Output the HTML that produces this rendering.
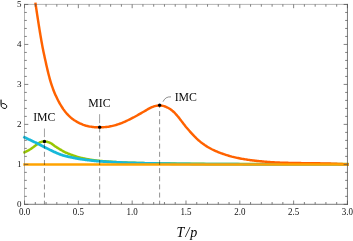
<!DOCTYPE html>
<html><head><meta charset="utf-8"><title>plot</title>
<style>html,body{margin:0;padding:0;background:#fff;}body{width:353px;height:241px;overflow:hidden;position:relative;font-family:"Liberation Serif",serif;}</style>
</head><body>
<svg width="353" height="241" viewBox="0 0 353 241" style="position:absolute;left:0;top:0;will-change:transform">
<rect x="0" y="0" width="353" height="241" fill="#fff"/>
<g fill="none" stroke-linecap="square" stroke-linejoin="round">
<path d="M24.53,152.40 L25.01,152.17 L25.49,151.94 L25.97,151.70 L26.45,151.45 L26.93,151.19 L27.41,150.93 L27.89,150.67 L28.37,150.39 L28.85,150.12 L29.33,149.83 L29.81,149.54 L30.29,149.25 L30.77,148.94 L31.25,148.62 L31.73,148.28 L32.21,147.94 L32.69,147.59 L33.17,147.24 L33.65,146.88 L34.12,146.51 L34.60,146.15 L35.08,145.79 L35.56,145.43 L36.04,145.08 L36.52,144.73 L37.00,144.40 L37.48,144.05 L37.96,143.70 L38.44,143.34 L38.92,143.01 L39.40,142.70 L39.88,142.45 L40.36,142.25 L40.84,142.06 L41.32,141.89 L41.80,141.75 L42.28,141.64 L42.76,141.56 L43.24,141.49 L43.72,141.43 L44.20,141.40 L44.68,141.41 L45.16,141.46 L45.64,141.53 L46.12,141.63 L46.60,141.72 L47.08,141.82 L47.56,141.95 L48.04,142.09 L48.52,142.24 L49.00,142.42 L49.48,142.60 L49.96,142.80 L50.44,143.01 L50.92,143.26 L51.40,143.55 L51.88,143.87 L52.36,144.21 L52.84,144.57 L53.31,144.94 L53.79,145.31 L54.27,145.67 L54.75,146.03 L55.23,146.36 L55.71,146.67 L56.19,146.98 L56.67,147.29 L57.15,147.60 L57.63,147.91 L58.11,148.21 L58.59,148.51 L59.07,148.80 L59.55,149.10 L60.03,149.38 L60.51,149.67 L60.99,149.95 L61.47,150.23 L61.95,150.50 L62.43,150.78 L62.91,151.05 L63.39,151.32 L63.87,151.58 L64.35,151.83 L64.83,152.07 L65.31,152.31 L65.79,152.53 L66.27,152.75 L66.75,152.96 L67.23,153.17 L67.71,153.37 L68.19,153.56 L68.67,153.75 L69.15,153.94 L69.63,154.13 L70.11,154.31 L70.59,154.49 L71.07,154.68 L71.55,154.85 L72.03,155.03 L72.50,155.21 L72.98,155.38 L73.46,155.55 L73.94,155.71 L74.42,155.88 L74.90,156.04 L75.38,156.20 L75.86,156.36 L76.34,156.51 L76.82,156.67 L77.30,156.82 L77.78,156.98 L78.26,157.13 L78.74,157.27 L79.22,157.41 L79.70,157.53 L80.18,157.64 L80.66,157.75 L81.14,157.86 L81.62,157.96 L82.10,158.07 L82.58,158.17 L83.06,158.27 L83.54,158.37 L84.02,158.47 L84.50,158.57 L84.98,158.67 L85.46,158.76 L85.94,158.86 L86.42,158.95 L86.90,159.04 L87.38,159.13 L87.86,159.22 L88.34,159.30 L88.82,159.39 L89.30,159.47 L89.78,159.55 L90.26,159.63 L90.74,159.71 L91.22,159.79 L91.69,159.87 L92.17,159.94 L92.65,160.01 L93.13,160.08 L93.61,160.15 L94.09,160.22 L94.57,160.29 L95.05,160.35 L95.53,160.41 L96.01,160.47 L96.49,160.53 L96.97,160.59 L97.45,160.64 L97.93,160.69 L98.41,160.74 L98.89,160.79 L99.37,160.84 L99.85,160.89 L100.33,160.93 L100.81,160.97 L101.29,161.02 L101.77,161.06 L102.25,161.10 L102.73,161.14 L103.21,161.18 L103.69,161.22 L104.17,161.26 L104.65,161.30 L105.13,161.34 L105.61,161.37 L106.09,161.41 L106.57,161.45 L107.05,161.49 L107.53,161.52 L108.01,161.56 L108.49,161.59 L108.97,161.63 L109.45,161.66 L109.93,161.69 L110.41,161.73 L110.88,161.76 L111.36,161.79 L111.84,161.82 L112.32,161.85 L112.80,161.89 L113.28,161.92 L113.76,161.95 L114.24,161.97 L114.72,162.00 L115.20,162.03 L115.68,162.06 L116.16,162.09 L116.64,162.11 L117.12,162.14 L117.60,162.17 L118.08,162.19 L118.56,162.22 L119.04,162.24 L119.52,162.27 L120.00,162.29 L122.88,162.43 L125.76,162.55 L128.64,162.65 L131.52,162.75 L134.40,162.84 L137.27,162.92 L140.15,163.00 L143.03,163.07 L145.91,163.14 L148.79,163.20 L151.67,163.26 L154.55,163.32 L157.43,163.37 L160.31,163.42 L163.19,163.46 L166.07,163.50 L168.94,163.54 L171.82,163.57 L174.70,163.60 L177.58,163.64 L180.46,163.67 L183.34,163.70 L186.22,163.73 L189.10,163.76 L191.98,163.78 L194.86,163.81 L197.74,163.83 L200.62,163.85 L203.49,163.87 L206.37,163.89 L209.25,163.91 L212.13,163.92 L215.01,163.93 L217.89,163.94 L220.77,163.95 L223.65,163.96 L226.53,163.97 L229.41,163.97 L232.29,163.98 L235.16,163.98 L238.04,163.99 L240.92,163.99 L243.80,164.00 L246.68,164.00 L249.56,164.01 L252.44,164.01 L255.32,164.01 L258.20,164.02 L261.08,164.02 L263.96,164.02 L266.83,164.03 L269.71,164.03 L272.59,164.03 L275.47,164.04 L278.35,164.04 L281.23,164.04 L284.11,164.04 L286.99,164.05 L289.87,164.05 L292.75,164.05 L295.63,164.06 L298.51,164.06 L301.38,164.06 L304.26,164.06 L307.14,164.07 L310.02,164.07 L312.90,164.07 L315.78,164.08 L318.66,164.08 L321.54,164.08 L324.42,164.08 L327.30,164.09 L330.18,164.09 L333.05,164.09 L335.93,164.09 L338.81,164.09 L341.69,164.10 L344.57,164.10 L347.45,164.10" stroke="#98c602" stroke-width="2.5"/>
<path d="M24.53,137.40 L25.01,137.62 L25.49,137.84 L25.97,138.06 L26.45,138.28 L26.93,138.50 L27.41,138.72 L27.89,138.94 L28.37,139.17 L28.85,139.39 L29.33,139.62 L29.81,139.84 L30.29,140.07 L30.77,140.29 L31.25,140.52 L31.73,140.75 L32.21,140.98 L32.69,141.21 L33.17,141.44 L33.65,141.67 L34.12,141.90 L34.60,142.13 L35.08,142.37 L35.56,142.60 L36.04,142.83 L36.52,143.07 L37.00,143.30 L37.48,143.54 L37.96,143.78 L38.44,144.02 L38.92,144.26 L39.40,144.50 L39.88,144.74 L40.36,144.99 L40.84,145.23 L41.32,145.48 L41.80,145.72 L42.28,145.97 L42.76,146.21 L43.24,146.46 L43.72,146.70 L44.20,146.95 L44.68,147.19 L45.16,147.43 L45.64,147.67 L46.12,147.91 L46.60,148.15 L47.08,148.40 L47.56,148.64 L48.04,148.89 L48.52,149.13 L49.00,149.38 L49.48,149.62 L49.96,149.87 L50.44,150.11 L50.92,150.35 L51.40,150.58 L51.88,150.81 L52.36,151.04 L52.84,151.27 L53.31,151.49 L53.79,151.71 L54.27,151.92 L54.75,152.13 L55.23,152.35 L55.71,152.56 L56.19,152.77 L56.67,152.98 L57.15,153.18 L57.63,153.39 L58.11,153.59 L58.59,153.79 L59.07,153.98 L59.55,154.17 L60.03,154.35 L60.51,154.53 L60.99,154.70 L61.47,154.87 L61.95,155.03 L62.43,155.18 L62.91,155.32 L63.39,155.46 L63.87,155.60 L64.35,155.73 L64.83,155.86 L65.31,155.99 L65.79,156.11 L66.27,156.23 L66.75,156.35 L67.23,156.46 L67.71,156.57 L68.19,156.68 L68.67,156.79 L69.15,156.90 L69.63,157.00 L70.11,157.11 L70.59,157.21 L71.07,157.31 L71.55,157.42 L72.03,157.52 L72.50,157.62 L72.98,157.72 L73.46,157.82 L73.94,157.92 L74.42,158.01 L74.90,158.11 L75.38,158.20 L75.86,158.29 L76.34,158.39 L76.82,158.47 L77.30,158.56 L77.78,158.64 L78.26,158.73 L78.74,158.80 L79.22,158.88 L79.70,158.96 L80.18,159.03 L80.66,159.10 L81.14,159.17 L81.62,159.24 L82.10,159.30 L82.58,159.37 L83.06,159.44 L83.54,159.51 L84.02,159.57 L84.50,159.64 L84.98,159.70 L85.46,159.77 L85.94,159.83 L86.42,159.89 L86.90,159.96 L87.38,160.02 L87.86,160.08 L88.34,160.14 L88.82,160.20 L89.30,160.26 L89.78,160.31 L90.26,160.37 L90.74,160.43 L91.22,160.48 L91.69,160.53 L92.17,160.59 L92.65,160.64 L93.13,160.69 L93.61,160.74 L94.09,160.79 L94.57,160.84 L95.05,160.88 L95.53,160.93 L96.01,160.97 L96.49,161.02 L96.97,161.06 L97.45,161.10 L97.93,161.14 L98.41,161.18 L98.89,161.22 L99.37,161.25 L99.85,161.29 L100.33,161.32 L100.81,161.36 L101.29,161.39 L101.77,161.42 L102.25,161.46 L102.73,161.49 L103.21,161.52 L103.69,161.55 L104.17,161.58 L104.65,161.61 L105.13,161.64 L105.61,161.68 L106.09,161.70 L106.57,161.73 L107.05,161.76 L107.53,161.79 L108.01,161.82 L108.49,161.85 L108.97,161.88 L109.45,161.90 L109.93,161.93 L110.41,161.96 L110.88,161.98 L111.36,162.01 L111.84,162.03 L112.32,162.06 L112.80,162.08 L113.28,162.11 L113.76,162.13 L114.24,162.16 L114.72,162.18 L115.20,162.21 L115.68,162.23 L116.16,162.25 L116.64,162.27 L117.12,162.30 L117.60,162.32 L118.08,162.34 L118.56,162.36 L119.04,162.38 L119.52,162.40 L120.00,162.42 L122.88,162.54 L125.76,162.65 L128.64,162.75 L131.52,162.85 L134.40,162.94 L137.27,163.03 L140.15,163.11 L143.03,163.19 L145.91,163.27 L148.79,163.34 L151.67,163.41 L154.55,163.48 L157.43,163.54 L160.31,163.59 L163.19,163.65 L166.07,163.69 L168.94,163.74 L171.82,163.77 L174.70,163.81 L177.58,163.85 L180.46,163.88 L183.34,163.92 L186.22,163.95 L189.10,163.98 L191.98,164.01 L194.86,164.04 L197.74,164.07 L200.62,164.09 L203.49,164.11 L206.37,164.14 L209.25,164.15 L212.13,164.17 L215.01,164.18 L217.89,164.19 L220.77,164.20 L223.65,164.21 L226.53,164.22 L229.41,164.22 L232.29,164.23 L235.16,164.24 L238.04,164.24 L240.92,164.25 L243.80,164.25 L246.68,164.26 L249.56,164.26 L252.44,164.27 L255.32,164.27 L258.20,164.28 L261.08,164.28 L263.96,164.28 L266.83,164.29 L269.71,164.29 L272.59,164.29 L275.47,164.30 L278.35,164.30 L281.23,164.30 L284.11,164.30 L286.99,164.30 L289.87,164.30 L292.75,164.30 L295.63,164.30 L298.51,164.30 L301.38,164.30 L304.26,164.30 L307.14,164.30 L310.02,164.30 L312.90,164.30 L315.78,164.30 L318.66,164.30 L321.54,164.30 L324.42,164.30 L327.30,164.30 L330.18,164.30 L333.05,164.30 L335.93,164.30 L338.81,164.30 L341.69,164.30 L344.57,164.30 L347.45,164.30" stroke="#17b9d9" stroke-width="2.75"/>
<path d="M35.56,3.88 L35.72,4.93 L35.88,5.98 L36.03,7.03 L36.19,8.08 L36.35,9.13 L36.50,10.18 L36.66,11.23 L36.82,12.28 L36.98,13.33 L37.14,14.38 L37.29,15.43 L37.46,16.49 L37.62,17.54 L37.78,18.59 L37.94,19.64 L38.10,20.69 L38.27,21.74 L38.43,22.80 L38.60,23.85 L38.76,24.90 L38.93,25.95 L39.10,27.00 L39.27,28.05 L39.44,29.10 L39.61,30.15 L39.78,31.21 L39.95,32.26 L40.13,33.31 L40.30,34.36 L40.48,35.41 L40.66,36.46 L40.84,37.51 L41.02,38.56 L41.20,39.61 L41.39,40.66 L41.57,41.70 L41.76,42.75 L41.95,43.80 L42.14,44.85 L42.33,45.90 L42.52,46.94 L42.72,47.99 L42.93,49.04 L43.14,50.08 L43.36,51.13 L43.58,52.17 L43.80,53.22 L44.02,54.26 L44.24,55.30 L44.47,56.35 L44.70,57.39 L44.93,58.43 L45.16,59.47 L45.39,60.51 L45.61,61.55 L45.84,62.59 L46.07,63.63 L46.30,64.67 L46.53,65.70 L46.77,66.74 L47.01,67.78 L47.25,68.81 L47.49,69.85 L47.74,70.88 L47.99,71.91 L48.24,72.94 L48.49,73.97 L48.75,75.00 L49.02,76.03 L49.29,77.05 L49.56,78.08 L49.84,79.10 L50.13,80.12 L50.42,81.14 L50.72,82.15 L51.03,83.17 L51.35,84.18 L51.69,85.19 L52.03,86.20 L52.39,87.20 L52.75,88.20 L53.12,89.20 L53.50,90.20 L53.89,91.20 L54.29,92.19 L54.70,93.18 L55.12,94.16 L55.55,95.14 L55.99,96.12 L56.45,97.10 L56.91,98.07 L57.38,99.04 L57.87,100.00 L58.37,100.96 L58.88,101.91 L59.40,102.85 L59.94,103.78 L60.49,104.74 L61.05,105.68 L61.63,106.61 L62.22,107.53 L62.83,108.45 L63.45,109.35 L64.09,110.23 L64.75,111.11 L65.41,111.97 L66.10,112.81 L66.80,113.61 L67.52,114.39 L68.25,115.15 L69.01,115.90 L69.78,116.63 L70.57,117.34 L71.37,118.02 L72.20,118.68 L73.04,119.31 L73.90,119.92 L74.78,120.51 L75.70,121.07 L76.60,121.62 L77.52,122.14 L78.45,122.63 L79.39,123.10 L80.35,123.55 L81.32,123.98 L82.30,124.39 L83.29,124.78 L84.30,125.14 L85.31,125.48 L86.33,125.78 L87.36,126.04 L88.40,126.28 L89.44,126.49 L90.49,126.66 L91.55,126.82 L92.60,126.96 L93.67,127.08 L94.73,127.17 L95.79,127.24 L96.86,127.28 L97.92,127.29 L98.99,127.28 L100.05,127.27 L101.11,127.27 L102.17,127.25 L103.23,127.21 L104.29,127.15 L105.34,127.07 L106.39,126.96 L107.44,126.84 L108.49,126.69 L109.53,126.51 L110.57,126.31 L111.60,126.09 L112.63,125.85 L113.66,125.60 L114.68,125.34 L115.70,125.06 L116.71,124.76 L117.71,124.45 L118.71,124.12 L119.71,123.77 L120.70,123.41 L121.68,123.03 L122.66,122.64 L123.63,122.24 L124.59,121.81 L125.55,121.38 L126.50,120.93 L127.44,120.48 L128.38,120.02 L129.31,119.56 L130.24,119.11 L131.16,118.64 L132.08,118.17 L132.99,117.69 L133.90,117.21 L134.82,116.72 L135.73,116.22 L136.64,115.71 L137.56,115.20 L138.47,114.68 L139.40,114.16 L140.32,113.63 L141.26,113.08 L142.19,112.53 L143.14,111.99 L144.09,111.45 L145.04,110.92 L146.01,110.34 L146.97,109.75 L147.95,109.18 L148.92,108.64 L149.91,108.12 L150.90,107.64 L151.89,107.20 L152.89,106.79 L153.90,106.43 L154.91,106.12 L155.92,105.87 L156.94,105.69 L157.96,105.57 L158.99,105.50 L160.01,105.50 L161.02,105.58 L162.03,105.72 L163.03,105.90 L164.02,106.15 L165.00,106.48 L165.97,106.86 L166.91,107.29 L167.84,107.76 L168.74,108.25 L169.62,108.78 L170.49,109.34 L171.33,109.95 L172.15,110.58 L172.95,111.25 L173.74,111.97 L174.51,112.73 L175.26,113.50 L176.00,114.30 L176.73,115.11 L177.44,115.94 L178.15,116.78 L178.84,117.64 L179.52,118.51 L180.19,119.39 L180.85,120.26 L181.51,121.13 L182.16,121.99 L182.80,122.85 L183.45,123.70 L184.09,124.52 L184.73,125.33 L185.38,126.15 L186.03,126.96 L186.68,127.73 L187.34,128.50 L188.00,129.27 L188.67,130.04 L189.34,130.80 L190.02,131.57 L190.71,132.35 L191.40,133.12 L192.10,133.89 L192.81,134.65 L193.53,135.40 L194.25,136.15 L194.99,136.88 L195.73,137.63 L196.48,138.37 L197.25,139.09 L198.02,139.80 L198.80,140.50 L199.60,141.18 L200.40,141.85 L201.22,142.50 L202.05,143.13 L202.89,143.75 L203.74,144.36 L204.60,144.97 L205.48,145.55 L206.36,146.13 L207.25,146.69 L208.15,147.23 L209.06,147.76 L209.98,148.27 L210.91,148.78 L211.84,149.27 L212.79,149.74 L213.74,150.20 L214.70,150.64 L215.66,151.07 L216.64,151.49 L217.61,151.90 L218.60,152.30 L219.59,152.68 L220.59,153.06 L221.59,153.42 L222.60,153.77 L223.61,154.12 L224.63,154.45 L225.65,154.79 L226.67,155.12 L227.70,155.45 L228.73,155.76 L229.76,156.07 L230.80,156.37 L231.84,156.67 L232.88,156.92 L233.92,157.17 L234.97,157.40 L236.01,157.63 L237.06,157.85 L238.10,158.07 L239.15,158.28 L240.20,158.49 L241.25,158.68 L242.30,158.88 L243.35,159.06 L244.40,159.24 L245.45,159.41 L246.50,159.58 L247.55,159.73 L248.60,159.88 L249.66,160.03 L250.71,160.17 L251.76,160.31 L252.82,160.44 L253.87,160.56 L254.93,160.69 L255.98,160.80 L257.04,160.91 L258.10,161.02 L259.15,161.12 L260.21,161.22 L261.27,161.33 L262.33,161.43 L263.39,161.53 L264.44,161.62 L265.50,161.71 L266.56,161.79 L267.62,161.87 L268.68,161.95 L269.74,162.03 L270.80,162.10 L271.87,162.16 L272.93,162.23 L273.99,162.29 L275.05,162.35 L276.11,162.40 L277.18,162.45 L278.24,162.50 L279.30,162.55 L280.36,162.60 L281.43,162.64 L282.49,162.68 L283.56,162.71 L284.62,162.75 L285.68,162.78 L286.75,162.81 L287.81,162.84 L288.88,162.87 L289.94,162.90 L291.01,162.92 L292.07,162.94 L293.14,162.96 L294.20,162.99 L295.27,163.00 L296.34,163.02 L297.40,163.04 L298.47,163.05 L299.53,163.07 L300.60,163.08 L301.67,163.10 L302.73,163.11 L303.80,163.12 L304.86,163.14 L305.93,163.15 L307.00,163.16 L308.06,163.17 L309.13,163.18 L310.20,163.20 L311.26,163.21 L312.33,163.22 L313.39,163.23 L314.46,163.25 L315.53,163.26 L316.59,163.28 L317.66,163.29 L318.72,163.31 L319.79,163.33 L320.86,163.35 L321.92,163.36 L322.99,163.39 L324.05,163.41 L325.12,163.43 L326.18,163.46 L327.25,163.49 L328.31,163.51 L329.38,163.55 L330.44,163.58 L331.50,163.61 L332.57,163.65 L333.63,163.69 L334.70,163.73 L335.76,163.77 L336.82,163.82 L337.88,163.87 L338.95,163.92 L340.01,163.98 L341.07,164.03 L342.13,164.09 L343.20,164.16 L344.26,164.22 L345.32,164.29 L346.38,164.37 L347.44,164.45" stroke="#ff6200" stroke-width="2.45"/>
<path d="M24.53,164.5 L347.45,164.5" stroke="#ffa300" stroke-width="2.5"/>
</g>
<line x1="44.44" y1="204.3" x2="44.44" y2="141.5" stroke="#000" stroke-opacity="0.68" stroke-width="0.65" stroke-dasharray="5.0 3.15" stroke-dashoffset="1.40"/>
<line x1="99.66" y1="204.3" x2="99.66" y2="127.2" stroke="#000" stroke-opacity="0.68" stroke-width="0.65" stroke-dasharray="5.0 3.15" stroke-dashoffset="1.40"/>
<line x1="159.62" y1="204.3" x2="159.62" y2="105.2" stroke="#000" stroke-opacity="0.68" stroke-width="0.65" stroke-dasharray="5.0 3.15" stroke-dashoffset="1.40"/>
<circle cx="44.44" cy="141.5" r="1.65" fill="#000"/>
<circle cx="99.66" cy="127.2" r="1.65" fill="#000"/>
<circle cx="159.62" cy="105.2" r="1.65" fill="#000"/>
<path d="M44.45,128.5 L44.45,137.1" stroke="#000" stroke-opacity="0.62" stroke-width="0.6" fill="none"/>
<path d="M99.6,114.2 L99.6,123.2" stroke="#000" stroke-opacity="0.62" stroke-width="0.6" fill="none"/>
<path d="M163.0,101.7 Q165.4,96.4 171.0,96.85" stroke="#000" stroke-opacity="0.55" stroke-width="0.8" fill="none"/>
<path d="M24.5,204.3 L24.5,4.4" fill="none" stroke="#4c4c4c" stroke-width="0.42" stroke-linecap="square"/>
<path d="M24.5,4.4 L347.45,4.4" fill="none" stroke="#4c4c4c" stroke-width="0.42" stroke-linecap="square"/>
<path d="M347.45,4.4 L347.45,204.3" fill="none" stroke="#4c4c4c" stroke-width="0.75" stroke-linecap="square"/>
<path d="M24.5,204.3 L347.45,204.3" fill="none" stroke="#4c4c4c" stroke-width="0.75" stroke-linecap="square"/>
<path d="M24.53,204.3 v-3.8 M24.53,4.4 v3.8 M35.29,204.3 v-2.3 M35.29,4.4 v2.3 M46.06,204.3 v-2.3 M46.06,4.4 v2.3 M56.82,204.3 v-2.3 M56.82,4.4 v2.3 M67.59,204.3 v-2.3 M67.59,4.4 v2.3 M78.35,204.3 v-3.8 M78.35,4.4 v3.8 M89.11,204.3 v-2.3 M89.11,4.4 v2.3 M99.88,204.3 v-2.3 M99.88,4.4 v2.3 M110.64,204.3 v-2.3 M110.64,4.4 v2.3 M121.41,204.3 v-2.3 M121.41,4.4 v2.3 M132.17,204.3 v-3.8 M132.17,4.4 v3.8 M142.93,204.3 v-2.3 M142.93,4.4 v2.3 M153.70,204.3 v-2.3 M153.70,4.4 v2.3 M164.46,204.3 v-2.3 M164.46,4.4 v2.3 M175.23,204.3 v-2.3 M175.23,4.4 v2.3 M185.99,204.3 v-3.8 M185.99,4.4 v3.8 M196.75,204.3 v-2.3 M196.75,4.4 v2.3 M207.52,204.3 v-2.3 M207.52,4.4 v2.3 M218.28,204.3 v-2.3 M218.28,4.4 v2.3 M229.05,204.3 v-2.3 M229.05,4.4 v2.3 M239.81,204.3 v-3.8 M239.81,4.4 v3.8 M250.57,204.3 v-2.3 M250.57,4.4 v2.3 M261.34,204.3 v-2.3 M261.34,4.4 v2.3 M272.10,204.3 v-2.3 M272.10,4.4 v2.3 M282.87,204.3 v-2.3 M282.87,4.4 v2.3 M293.63,204.3 v-3.8 M293.63,4.4 v3.8 M304.39,204.3 v-2.3 M304.39,4.4 v2.3 M315.16,204.3 v-2.3 M315.16,4.4 v2.3 M325.92,204.3 v-2.3 M325.92,4.4 v2.3 M336.69,204.3 v-2.3 M336.69,4.4 v2.3 M347.45,204.3 v-3.8 M347.45,4.4 v3.8 M24.5,204.35 h3.8 M347.45,204.35 h-3.8 M24.5,196.35 h2.3 M347.45,196.35 h-2.3 M24.5,188.36 h2.3 M347.45,188.36 h-2.3 M24.5,180.36 h2.3 M347.45,180.36 h-2.3 M24.5,172.37 h2.3 M347.45,172.37 h-2.3 M24.5,164.37 h3.8 M347.45,164.37 h-3.8 M24.5,156.37 h2.3 M347.45,156.37 h-2.3 M24.5,148.38 h2.3 M347.45,148.38 h-2.3 M24.5,140.38 h2.3 M347.45,140.38 h-2.3 M24.5,132.39 h2.3 M347.45,132.39 h-2.3 M24.5,124.39 h3.8 M347.45,124.39 h-3.8 M24.5,116.39 h2.3 M347.45,116.39 h-2.3 M24.5,108.40 h2.3 M347.45,108.40 h-2.3 M24.5,100.40 h2.3 M347.45,100.40 h-2.3 M24.5,92.41 h2.3 M347.45,92.41 h-2.3 M24.5,84.41 h3.8 M347.45,84.41 h-3.8 M24.5,76.41 h2.3 M347.45,76.41 h-2.3 M24.5,68.42 h2.3 M347.45,68.42 h-2.3 M24.5,60.42 h2.3 M347.45,60.42 h-2.3 M24.5,52.43 h2.3 M347.45,52.43 h-2.3 M24.5,44.43 h3.8 M347.45,44.43 h-3.8 M24.5,36.43 h2.3 M347.45,36.43 h-2.3 M24.5,28.44 h2.3 M347.45,28.44 h-2.3 M24.5,20.44 h2.3 M347.45,20.44 h-2.3 M24.5,12.45 h2.3 M347.45,12.45 h-2.3 M24.5,4.45 h3.8 M347.45,4.45 h-3.8" stroke="#4c4c4c" stroke-width="0.7" fill="none"/>
<g style="font-family:'Liberation Serif',serif" font-size="9px" fill="#111">
<text transform="translate(24.53,215.2) scale(1,1.15)" text-anchor="middle">0.0</text>
<text transform="translate(78.35,215.2) scale(1,1.15)" text-anchor="middle">0.5</text>
<text transform="translate(132.17,215.2) scale(1,1.15)" text-anchor="middle">1.0</text>
<text transform="translate(185.99,215.2) scale(1,1.15)" text-anchor="middle">1.5</text>
<text transform="translate(239.81,215.2) scale(1,1.15)" text-anchor="middle">2.0</text>
<text transform="translate(293.63,215.2) scale(1,1.15)" text-anchor="middle">2.5</text>
<text transform="translate(347.45,215.2) scale(1,1.15)" text-anchor="middle">3.0</text>
<text transform="translate(21.4,206.90) scale(1,1.0)" text-anchor="end">0</text>
<text transform="translate(21.4,166.92) scale(1,1.0)" text-anchor="end">1</text>
<text transform="translate(21.4,126.94) scale(1,1.0)" text-anchor="end">2</text>
<text transform="translate(21.4,86.96) scale(1,1.0)" text-anchor="end">3</text>
<text transform="translate(21.4,46.98) scale(1,1.0)" text-anchor="end">4</text>
<text transform="translate(21.4,7.00) scale(1,1.0)" text-anchor="end">5</text>
</g>
<g style="font-family:'Liberation Serif',serif" font-size="12px" fill="#0a0a0a">
<text transform="translate(44.3,121.3) scale(0.985,1.04)" text-anchor="middle">IMC</text>
<text transform="translate(99.5,106.75) scale(0.985,1.04)" text-anchor="middle">MIC</text>
<text transform="translate(185.8,100.8) scale(0.985,1.04)" text-anchor="middle">IMC</text>
</g>
<g style="font-family:'Liberation Serif',serif" font-size="14px" font-style="italic" fill="#000">
<text x="176.4" y="237.1">T<tspan dx="1.3">/</tspan><tspan dx="0.8">p</tspan></text>
<ellipse cx="3.95" cy="106.0" rx="3.05" ry="2.25" transform="rotate(30 3.95 106.0)" fill="none" stroke="#000" stroke-width="0.85"/>
<path d="M0.5,99.6 L0.5,104.8" fill="none" stroke="#8a8a8a" stroke-width="1"/>
<path d="M1.4,99.6 L1.4,104.2" fill="none" stroke="#222" stroke-width="0.8"/>
</g>
</svg>
</body></html>
